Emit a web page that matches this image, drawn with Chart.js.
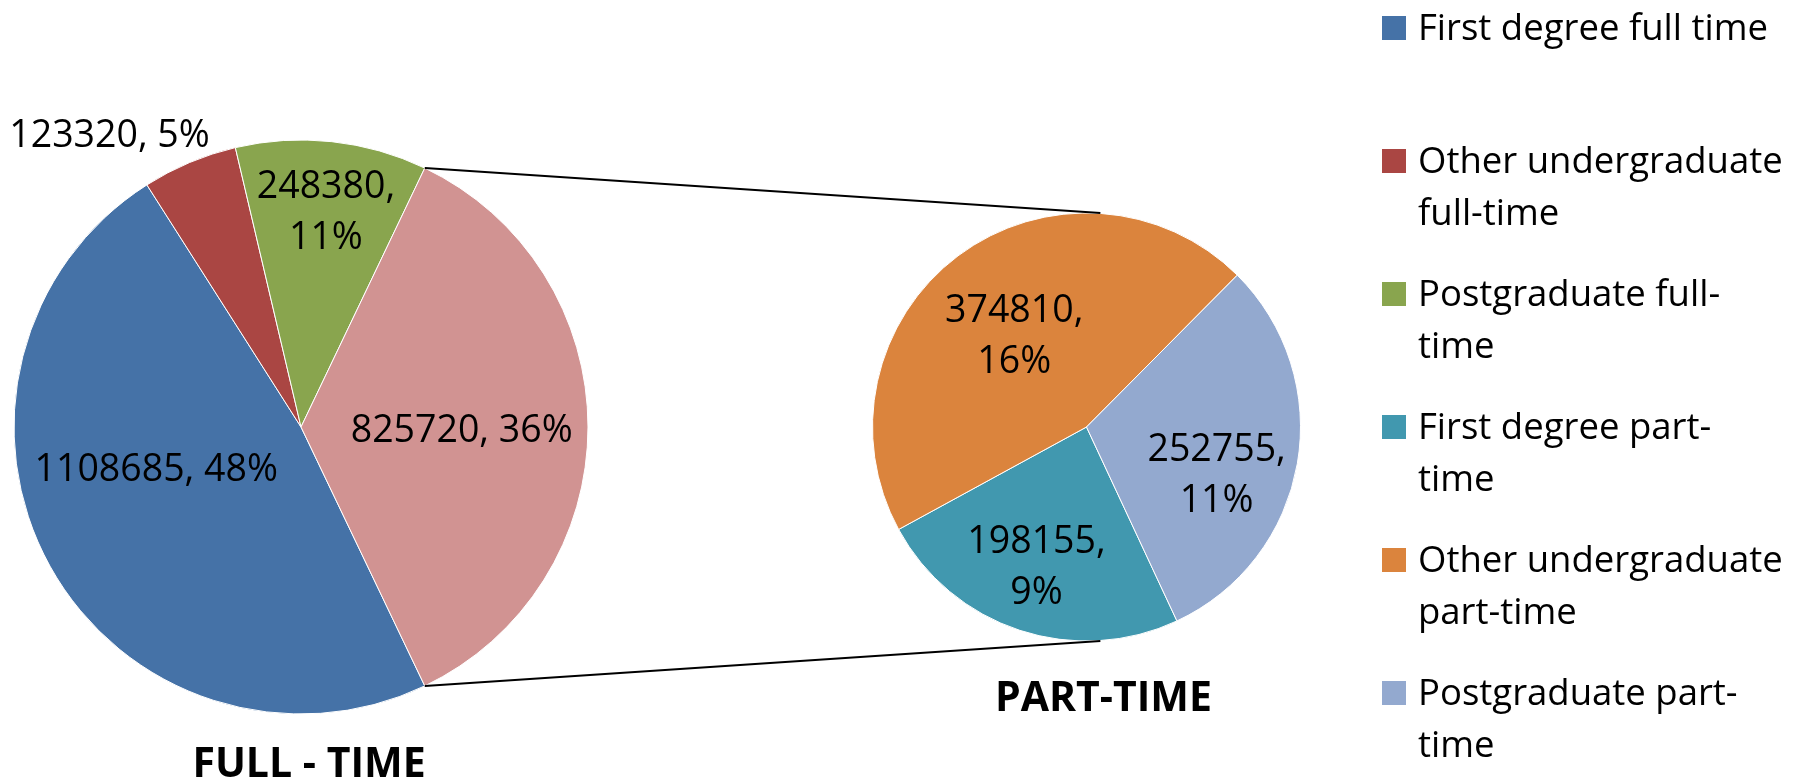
<!DOCTYPE html>
<html>
<head>
<meta charset="utf-8">
<script src="https://cdn.jsdelivr.net/npm/chart.js@4.4.1/dist/chart.umd.min.js"></script>
<style>
  body { margin: 0; background: #fff; }
  #wrap { position: relative; width: 1800px; height: 782px; }
  #wrap canvas { position: absolute; left: 0; top: 0; }
</style>
</head>
<body>
<div id="wrap">
  <canvas id="fullChart" width="1800" height="782"></canvas>
  <canvas id="partChart" width="1800" height="782"></canvas>
</div>
<script>
// legend entries, split into the lines the legend shows
const categories = [
  ['First degree full time'],
  ['Other undergraduate', 'full-time'],
  ['Postgraduate full-', 'time'],
  ['First degree part-', 'time'],
  ['Other undergraduate', 'part-time'],
  ['Postgraduate part-', 'time']
];
const fullTimeValues = [1108685, 123320, 248380];
const partTimeValues = [198155, 374810, 252755];
const chartTitles = ['FULL - TIME', 'PART-TIME'];

const fullTimeColors = ['#4572A7', '#AA4643', '#89A54E'];
const partTimeColors = ['#4198AF', '#DB843D', '#93A9CF'];
const otherColor = '#D19392';

// the part-time slice of the big pie is the sum of the small pie
const partTotal = partTimeValues.reduce((a, b) => a + b, 0);
const mainValues = [...fullTimeValues, partTotal];
const grandTotal = mainValues.reduce((a, b) => a + b, 0);

const FONT = '"Open Sans", "Noto Sans", sans-serif';

// value + percent labels inside / next to the slices
const sliceLabels = {
  id: 'sliceLabels',
  afterDatasetsDraw(chart, args, opts) {
    const ctx = chart.ctx;
    const values = chart.data.datasets[0].data;
    ctx.save();
    ctx.font = '37.5px ' + FONT;
    ctx.fillStyle = '#000';
    ctx.textAlign = 'center';
    chart.getDatasetMeta(0).data.forEach((arc, i) => {
      const p = arc.getProps(['x', 'y', 'startAngle', 'endAngle', 'outerRadius'], true);
      const [shift, dist, split] = opts.placement[i];
      const a = (p.startAngle + p.endAngle) / 2 + shift * Math.PI / 180;
      const cx = p.x + Math.cos(a) * p.outerRadius * dist;
      const cy = p.y + Math.sin(a) * p.outerRadius * dist;
      const pct = Math.round(values[i] / opts.total * 100) + '%';
      const lines = split ? [values[i] + ',', pct] : [values[i] + ', ' + pct];
      lines.forEach((t, k) => {
        ctx.fillText(t, cx, cy + 13 + (k - (lines.length - 1) / 2) * 51);
      });
    });
    ctx.restore();
  }
};

const fullChart = new Chart(document.getElementById('fullChart'), {
  type: 'pie',
  data: {
    labels: categories.slice(0, 3).map(l => l.join(' ')).concat('Part-time'),
    datasets: [{
      data: mainValues,
      backgroundColor: [...fullTimeColors, otherColor],
      borderColor: '#fff',
      borderWidth: 1,
      radius: 287
    }]
  },
  options: {
    responsive: false,
    animation: false,
    // excel puts the "other" slice centred on the right side
    rotation: 90 + partTotal / grandTotal * 180,
    layout: { padding: { left: 14, right: 1212, top: 140, bottom: 68 } },
    plugins: {
      legend: { display: false },
      tooltip: { enabled: false },
      sliceLabels: {
        total: grandTotal,
        placement: [[13.3, 0.524, false], [-10.3, 1.22, false], [0.4, 0.76, true], [0.7, 0.56, false]]
      }
    }
  },
  plugins: [sliceLabels]
});

// connector lines, titles and legend
const pieOfPieDecor = {
  id: 'pieOfPieDecor',
  afterDraw(chart) {
    const ctx = chart.ctx;
    const mainArcs = fullChart.getDatasetMeta(0).data;
    const big = mainArcs[mainArcs.length - 1].getProps(['x', 'y', 'startAngle', 'endAngle', 'outerRadius'], true);
    const small = chart.getDatasetMeta(0).data[0].getProps(['x', 'y', 'outerRadius'], true);

    ctx.save();
    ctx.strokeStyle = '#000';
    ctx.lineWidth = 2;
    const sx = small.x + small.outerRadius * 0.065;
    [[big.startAngle, -1], [big.endAngle, 1]].forEach(([a, side]) => {
      ctx.beginPath();
      ctx.moveTo(big.x + Math.cos(a) * big.outerRadius, big.y + Math.sin(a) * big.outerRadius);
      ctx.lineTo(sx, small.y + side * small.outerRadius);
      ctx.stroke();
    });

    ctx.fillStyle = '#000';
    ctx.textAlign = 'center';
    ctx.font = 'bold 41px ' + FONT;
    ctx.fillText(chartTitles[0], big.x + 8, big.y + big.outerRadius + 63);
    ctx.fillText(chartTitles[1], small.x + 17, small.y + small.outerRadius + 70);

    // legend
    const colors = [...fullTimeColors, ...partTimeColors];
    ctx.textAlign = 'left';
    ctx.font = '36.5px ' + FONT;
    categories.forEach((lines, i) => {
      const base = 40 + i * 133;
      ctx.fillStyle = colors[i];
      ctx.fillRect(1382, base - 24, 24, 24);
      ctx.fillStyle = '#000';
      lines.forEach((t, k) => ctx.fillText(t, 1418, base + k * 52));
    });
    ctx.restore();
  }
};

const partChart = new Chart(document.getElementById('partChart'), {
  type: 'pie',
  data: {
    labels: categories.slice(3).map(l => l.join('')),
    datasets: [{
      data: partTimeValues,
      backgroundColor: partTimeColors,
      borderColor: '#fff',
      borderWidth: 1,
      radius: 214
    }]
  },
  options: {
    responsive: false,
    animation: false,
    rotation: 155,
    layout: { padding: { left: 872, right: 499, top: 213, bottom: 141 } },
    plugins: {
      legend: { display: false },
      tooltip: { enabled: false },
      sliceLabels: {
        total: grandTotal,
        placement: [[1.6, 0.69, true], [-1, 0.55, true], [9.6, 0.645, true]]
      }
    }
  },
  plugins: [sliceLabels, pieOfPieDecor]
});
</script>
</body>
</html>
